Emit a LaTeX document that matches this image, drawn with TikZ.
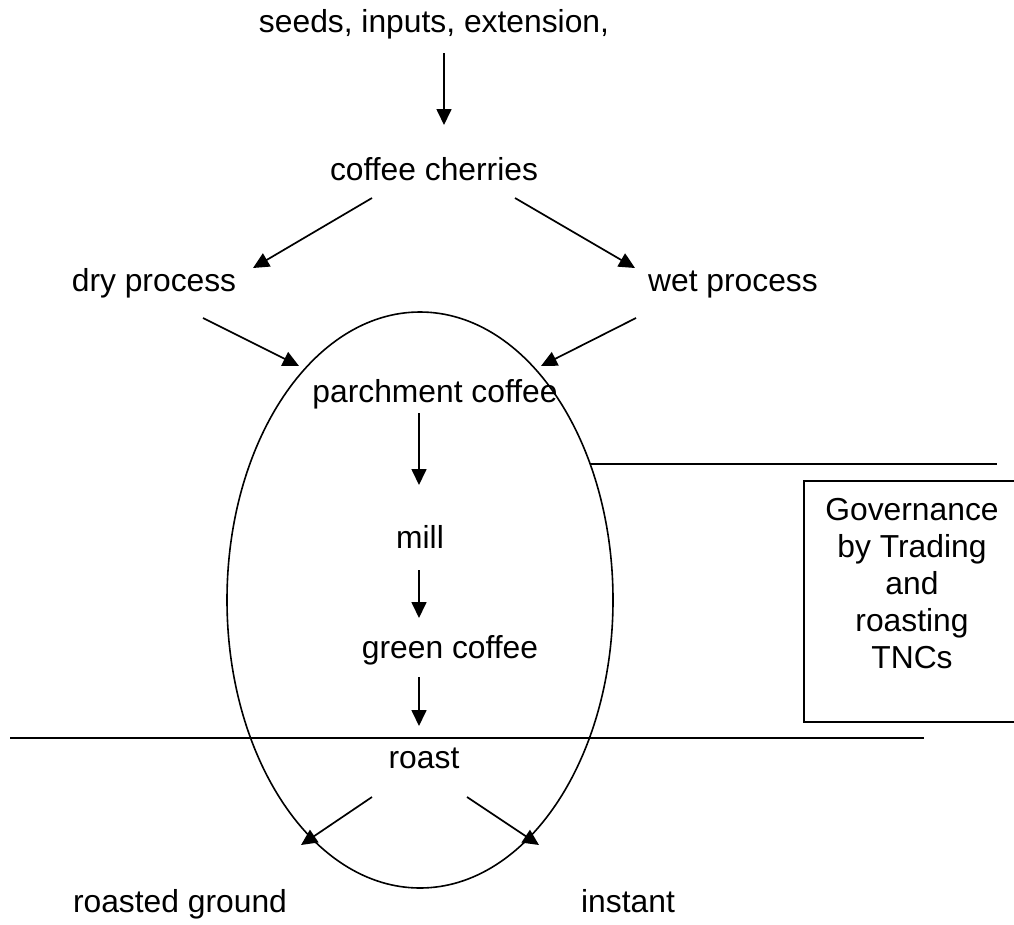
\documentclass[tikz,border=0pt]{standalone}
\usepackage{fontspec}
\setmainfont{Liberation Sans}
\usetikzlibrary{arrows.meta,shapes.geometric}
\begin{document}
\begin{tikzpicture}[x=1pt,y=-1pt,
  lbl/.style={anchor=base,inner sep=0pt,font=\fontsize{31.8}{37}\selectfont},
  flow/.style={line width=1.7pt,-{Triangle[length=16pt,width=15pt]}},
  rule/.style={line width=1.7pt}]
\useasboundingbox (0,0) rectangle (1014,924);
% texts
\node[lbl] (seeds) at (434,32) {seeds, inputs, extension,};
\node[lbl] (cherries) at (434,180) {coffee cherries};
\node[lbl] (dry) at (154,291) {dry process};
\node[lbl] (wet) at (733,291) {wet process};
\node[lbl] (parch) at (435,402) {parchment coffee};
\node[lbl] (mill) at (420,548) {mill};
\node[lbl] (green) at (450,658) {green coffee};
\node[lbl] (roast) at (424,768) {roast};
\node[lbl] (ground) at (180,912) {roasted ground};
\node[lbl] (instant) at (628,912) {instant};
% ellipse
\node[ellipse,draw,line width=1.6pt,minimum width=386pt,minimum height=576pt,inner sep=0pt] (oval) at (420,600) {};
% governance box
\node[draw,line width=1.7pt,minimum width=214pt,minimum height=241pt,inner sep=0pt,anchor=north west] (govbox) at (803,480) {};
\node[anchor=north,inner sep=0pt,align=center,font=\fontsize{31.8}{37}\selectfont] (govtext) at (912,498) {Governance\\by Trading\\and\\roasting\\TNCs};
% horizontal rules
\coordinate (u1) at (590,464);
\coordinate (u2) at (997,464);
\coordinate (l1) at (10,738);
\coordinate (l2) at (924,738);
\draw[rule] (u1) -- (u2);
\draw[rule] (l1) -- (l2);
% arrow ends
\coordinate (a1s) at (444,53);  \coordinate (a1e) at (444,125);
\coordinate (a2s) at (372,198); \coordinate (a2e) at (253,268);
\coordinate (a3s) at (515,198); \coordinate (a3e) at (635,268);
\coordinate (a4s) at (203,318); \coordinate (a4e) at (299,366);
\coordinate (a5s) at (636,318); \coordinate (a5e) at (541,366);
\coordinate (a6s) at (419,413); \coordinate (a6e) at (419,485);
\coordinate (a7s) at (419,570); \coordinate (a7e) at (419,618);
\coordinate (a8s) at (419,677); \coordinate (a8e) at (419,726);
\coordinate (a9s) at (372,797); \coordinate (a9e) at (301,845);
\coordinate (a10s) at (467,797); \coordinate (a10e) at (539,845);
\foreach \i in {1,...,10} \draw[flow] (a\i s) -- (a\i e);
\end{tikzpicture}
\end{document}
